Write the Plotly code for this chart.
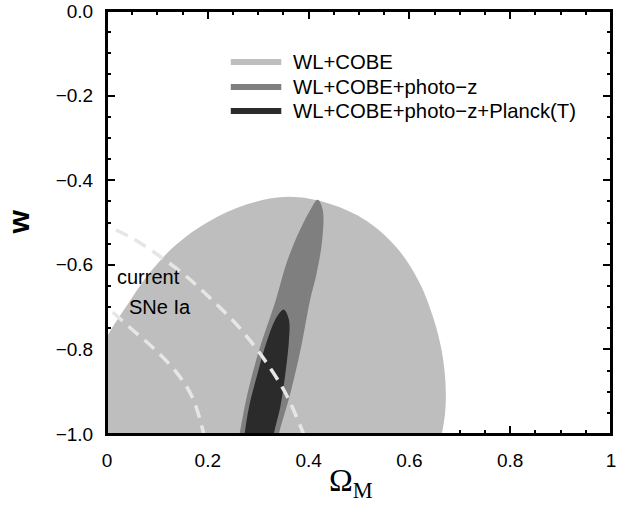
import plotly.graph_objects as go

# ---- data ----
# light gray region (WL+COBE) boundary, traced around the contour
cobe_x = [0.662, 0.671, 0.6715, 0.664, 0.647, 0.6196, 0.5766, 0.5161, 0.4415, 0.3595, 0.2778, 0.2029,
          0.1375, 0.0843, 0.0413, 0.0018, -0.028, -0.0467, -0.053, 0.30]
cobe_w = [-1.014, -0.948, -0.8777, -0.8027, -0.724, -0.6414, -0.562, -0.4969, -0.4557, -0.4394, -0.4569, -0.4969,
          -0.5519, -0.6196, -0.693, -0.7658, -0.8446, -0.928, -1.014, -1.12]

# medium gray region (WL+COBE+photo-z)
photz_x = [0.255, 0.263, 0.279, 0.302, 0.335, 0.354, 0.374, 0.403, 0.418, 0.428, 0.427, 0.416, 0.403, 0.384, 0.364, 0.341, 0.333]
photz_w = [-1.05, -1.0, -0.903, -0.801, -0.683, -0.604, -0.541, -0.471, -0.446, -0.47, -0.541, -0.620, -0.683, -0.801, -0.903, -1.0, -1.05]

# dark region (WL+COBE+photo-z+Planck(T))
planck_x = [0.268, 0.273, 0.282, 0.299, 0.318, 0.337, 0.351, 0.361, 0.361, 0.354, 0.344, 0.331, 0.326]
planck_w = [-1.05, -1.0, -0.935, -0.856, -0.778, -0.723, -0.706, -0.730, -0.778, -0.856, -0.935, -1.0, -1.05]

# current SNe Ia dashed contours
sne_outer_x = [-0.02, 0.0, 0.05, 0.106, 0.16, 0.21, 0.26, 0.308, 0.354, 0.39]
sne_outer_w = [-0.497, -0.508, -0.537, -0.581, -0.630, -0.685, -0.745, -0.817, -0.903, -1.0]
sne_inner_x = [-0.02, 0.0, 0.047, 0.095, 0.139, 0.17, 0.192]
sne_inner_w = [-0.68, -0.70, -0.750, -0.80, -0.856, -0.915, -1.0]

legend_labels = ["WL+COBE", "WL+COBE+photo\u2212z", "WL+COBE+photo\u2212z+Planck(T)"]
colors = ["#bebebe", "#7f7f7f", "#2b2b2b"]

x_ticks = [0, 0.2, 0.4, 0.6, 0.8, 1]
y_ticks = [0, -0.2, -0.4, -0.6, -0.8, -1.0]

FONT = "Liberation Sans, Arial, Helvetica, sans-serif"

fig = go.Figure()
for xs, ws, c, name in [(cobe_x, cobe_w, colors[0], legend_labels[0]),
                        (photz_x, photz_w, colors[1], legend_labels[1]),
                        (planck_x, planck_w, colors[2], legend_labels[2])]:
    fig.add_trace(go.Scatter(x=xs, y=ws, mode="lines", fill="toself", fillcolor=c,
                             line=dict(color=c, width=0, shape="spline", smoothing=1.0),
                             name=name, showlegend=False, hoverinfo="skip"))

for xs, ws in [(sne_outer_x, sne_outer_w), (sne_inner_x, sne_inner_w)]:
    fig.add_trace(go.Scatter(x=xs, y=ws, mode="lines",
                             line=dict(color="#e6e6e6", width=3.5, dash="13px,8px", shape="spline"),
                             showlegend=False, hoverinfo="skip"))

axis_common = dict(
    ticks="inside", ticklen=8, tickwidth=1.5, tickcolor="black",
    showline=True, linecolor="black", linewidth=2, mirror="ticks",
    showgrid=False, zeroline=False, layer="below traces",
    tickfont=dict(family=FONT, size=19, color="black"),
    ticklabelstandoff=8, ticklabeloverflow="allow",
    minor=dict(dtick=0.05, ticks="inside", ticklen=4, tickwidth=1.5, tickcolor="black", showgrid=False),
)

fig.update_xaxes(range=[0, 1], tickvals=x_ticks, ticktext=[("%g" % v) for v in x_ticks], **axis_common)
fig.update_yaxes(range=[-1, 0], tickvals=y_ticks, tickformat=".1f", **axis_common)

# frame on top of the fills
fig.add_shape(type="rect", xref="paper", yref="paper", x0=0, x1=1, y0=0, y1=1,
              line=dict(color="black", width=2), layer="above")

# manual legend
leg_y = [0.8795, 0.8205, 0.7638]
for lab, c, yy in zip(legend_labels, colors, leg_y):
    fig.add_shape(type="line", xref="paper", yref="paper", x0=0.2456, x1=0.3458, y0=yy, y1=yy,
                  line=dict(color=c, width=6), layer="above")
    fig.add_annotation(xref="paper", yref="paper", x=0.3654, y=yy, text=lab, showarrow=False,
                       xanchor="left", yanchor="middle",
                       font=dict(family=FONT, size=20.3, color="black"))

# labels
fig.add_annotation(x=0.0157, y=-0.629, text="current", showarrow=False, xanchor="left", yanchor="middle",
                   font=dict(family=FONT, size=20, color="black"))
fig.add_annotation(x=0.039, y=-0.70, text="SNe Ia", showarrow=False, xanchor="left", yanchor="middle",
                   font=dict(family=FONT, size=20, color="black"))

fig.add_annotation(xref="paper", yref="paper", x=0, y=0.5, xshift=-89, text="<b>w</b>", textangle=-90,
                   showarrow=False, xanchor="center", yanchor="middle",
                   font=dict(family=FONT, size=30, color="black"))
fig.add_annotation(xref="paper", yref="paper", x=0.5, y=0, yshift=-48, xshift=-8,
                   text="\u03a9<sub>M</sub>", showarrow=False, xanchor="center", yanchor="middle",
                   font=dict(family="Liberation Serif, Times New Roman, serif", size=32, color="black"))

fig.update_layout(width=617, height=506, margin=dict(l=107, r=1, t=11, b=72),
                  plot_bgcolor="white", paper_bgcolor="white", showlegend=False)

fig.write_html("out.html")
